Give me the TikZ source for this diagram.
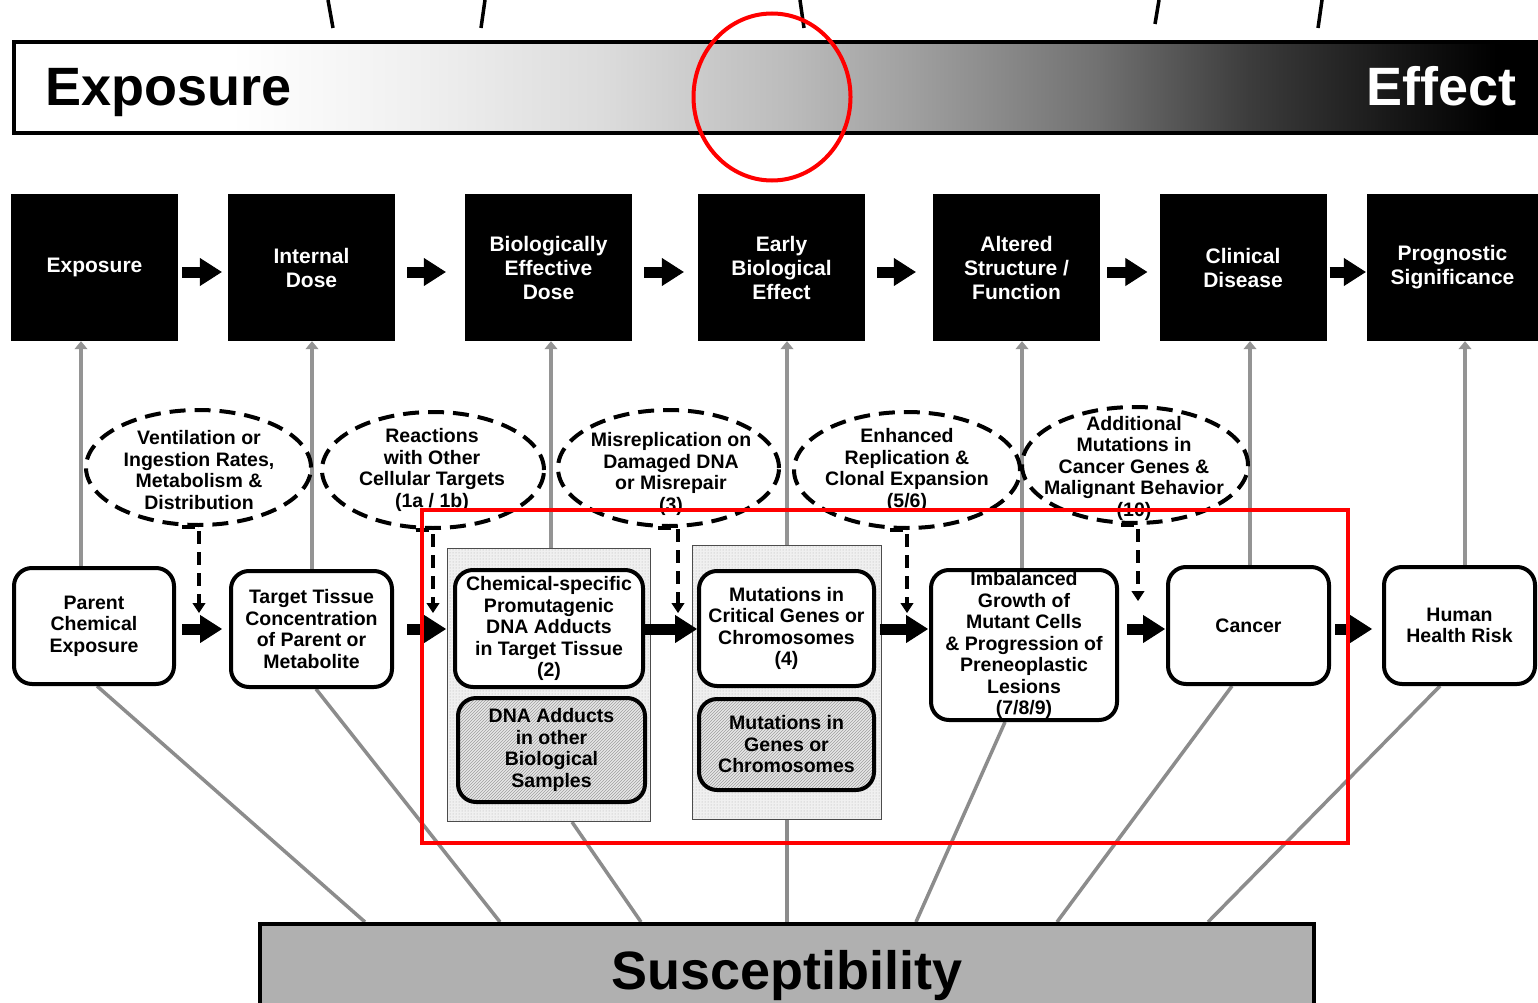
\documentclass[tikz,border=0pt]{standalone}
\usepackage{fontspec}
\setmainfont{Liberation Sans}
\usetikzlibrary{arrows.meta,calc,patterns,shapes.geometric}
\pgfdeclarelayer{back}
\pgfdeclarelayer{lines}
\pgfsetlayers{back,lines,main}
\definecolor{shA}{HTML}{F0F0F0}
\definecolor{shB}{HTML}{DCDCDC}
\definecolor{shC}{HTML}{BCBCBC}
\definecolor{shD}{HTML}{A0A0A0}
\definecolor{shE}{HTML}{727272}
\definecolor{shF}{HTML}{3C3C3C}
\definecolor{shG}{HTML}{151515}
\pgfdeclarehorizontalshading{expeff}{100bp}{color(0bp)=(white); color(32bp)=(white); color(38bp)=(shA); color(44bp)=(shB); color(50bp)=(shC); color(54bp)=(shD); color(60bp)=(shE); color(65bp)=(shF); color(70bp)=(shG); color(73bp)=(black); color(100bp)=(black)}
\tikzset{
 blk/.style={rectangle, fill=black, text=white, inner sep=0pt, minimum width=167pt, minimum height=147pt, align=center, font=\bfseries\fontsize{21pt}{24pt}\selectfont},
 wbox/.style={rectangle, rounded corners=18pt, draw=black, line width=4pt, fill=white, inner sep=1pt, align=center, font=\bfseries\fontsize{19.5pt}{21.5pt}\selectfont},
 hbox/.style={wbox, preaction={fill=black!9}, pattern=north east lines, pattern color=black!38},
 cont/.style={rectangle, draw=black!70, line width=1pt, preaction={fill=black!6}, pattern=dots, pattern color=black!32, inner sep=0pt},
 ell/.style={ellipse, draw=black, line width=4pt, dash pattern=on 16pt off 9pt, inner sep=0pt},
 etxt/.style={align=center, inner sep=0pt, font=\bfseries\fontsize{19.5pt}{21.5pt}\selectfont},
 fat/.style={draw=black, line width=11pt, -{Triangle[length=22pt,width=28pt,line width=1pt]}},
 garrow/.style={draw=black!42, line width=4pt, -{Triangle[length=8pt,width=13pt,line width=1pt]}},
 gline/.style={draw=black!45, line width=3.5pt},
 dline/.style={draw=black, line width=4pt, dash pattern=on 13pt off 8pt, -{Triangle[length=10pt,width=13pt,line width=1pt]}},
 bigtxt/.style={font=\bfseries\fontsize{54pt}{60pt}\selectfont, inner sep=0pt},
 paren/.style={draw=black, line width=3.5pt},
 redmark/.style={draw=red, line width=4pt, inner sep=0pt},
}
\begin{document}
\begin{tikzpicture}[x=1pt,y=-1pt]
\useasboundingbox (0,0) rectangle (1538,1003);
\begin{pgfonlayer}{back}
\fill[white] (0,0) rectangle (1538,1003);
\end{pgfonlayer}

% partial parentheses at the top edge
\draw[paren] (328,0) -- (333,28);
\draw[paren] (485,0) -- (481,28);
\draw[paren] (800,0) -- (804,28);
\draw[paren] (1159,0) -- (1155,24);
\draw[paren] (1322,0) -- (1318,28);

% exposure-effect bar
\node[rectangle, draw=black, line width=4pt, shading=expeff, minimum width=1544pt, minimum height=91pt, inner sep=0pt] (bar) at (786,87.5) {};
\node[bigtxt, anchor=base west] (hexp) at (45,106) {Exposure};
\node[bigtxt, anchor=base east, text=white] (heff) at (1517,106) {Effect};

% black boxes
\node[blk] (bx1) at (94.5,267.5) {Exposure};
\node[blk] (bx2) at (311.5,267.5) {Internal\\Dose};
\node[blk] (bx3) at (548.5,267.5) {Biologically\\Effective\\Dose};
\node[blk] (bx4) at (781.5,267.5) {Early\\Biological\\Effect};
\node[blk] (bx5) at (1016.5,267.5) {Altered\\Structure /\\Function};
\node[blk] (bx6) at (1243,267.5) {Clinical\\Disease};
\node[blk, minimum width=171pt] (bx7) at (1452.5,267.5) {Prognostic\\Significance};

% ellipses
\node[ell, minimum width=225pt, minimum height=115pt] (e1) at (198.5,467.5) {};
\node[etxt] (t1) at (199,470) {Ventilation or\\Ingestion Rates,\\Metabolism \&\\Distribution};
\node[ell, minimum width=222pt, minimum height=116pt] (e2) at (433,470) {};
\node[etxt] (t2) at (432,470) {Reactions\\with Other\\Cellular Targets\\(1a / 1b)};
\node[ell, minimum width=221pt, minimum height=116pt] (e3) at (668.5,468) {};
\node[etxt] (t3) at (671,474) {Misreplication on\\Damaged DNA\\or Misrepair\\(3)};
\node[ell, minimum width=226pt, minimum height=116pt] (e4) at (907,470) {};
\node[etxt] (t4) at (907,470) {Enhanced\\Replication \&\\Clonal Expansion\\(5/6)};
\node[ell, minimum width=226pt, minimum height=116pt] (e5) at (1135,465) {};
\node[etxt] (t5) at (1134,468) {Additional\\Mutations in\\Cancer Genes \&\\Malignant Behavior\\(10)};

% containers and boxes
\node[cont, minimum width=203pt, minimum height=273pt] (c1) at (549,685) {};
\node[cont, minimum width=189pt, minimum height=274pt] (c2) at (787,682.5) {};
\node[wbox, minimum width=160pt, minimum height=116pt] (pce) at (94,626) {Parent\\Chemical\\Exposure};
\node[wbox, minimum width=161pt, minimum height=116pt] (tt) at (311.5,629) {Target Tissue\\Concentration\\of Parent or\\Metabolite};
\node[wbox, minimum width=188pt, minimum height=117pt] (chem) at (549,628.5) {Chemical-specific\\Promutagenic\\DNA Adducts\\in Target Tissue\\(2)};
\node[hbox, minimum width=187pt, minimum height=104pt] (dna) at (551.5,750) {DNA Adducts\\in other\\Biological\\Samples};
\node[wbox, minimum width=175pt, minimum height=115pt] (mut) at (786.5,628.5) {Mutations in\\Critical Genes or\\Chromosomes\\(4)};
\node[hbox, minimum width=175pt, minimum height=91pt] (mutg) at (786.5,744.5) {Mutations in\\Genes or\\Chromosomes};
\node[wbox, minimum width=186pt, minimum height=150pt] (img) at (1024,645) {Imbalanced\\Growth of\\Mutant Cells\\\& Progression of\\Preneoplastic\\Lesions\\(7/8/9)};
\node[wbox, minimum width=161pt, minimum height=117pt] (cancer) at (1248.5,625.5) {Cancer};
\node[wbox, minimum width=151pt, minimum height=117pt] (hhr) at (1459.5,625.5) {Human\\Health Risk};

% susceptibility
\node[rectangle, draw=black, line width=4pt, fill=black!31, minimum width=1054pt, minimum height=104pt, inner sep=0pt, font=\bfseries\fontsize{54pt}{60pt}\selectfont] (susc) at (787,976) {Susceptibility};

% gray connectors
\begin{pgfonlayer}{lines}
\draw[garrow] ([xshift=-13pt]pce.north) -- ([xshift=-13.5pt]bx1.south);
\draw[garrow] ([xshift=0.5pt]tt.north) -- ([xshift=0.5pt]bx2.south);
\draw[garrow] ([xshift=2pt]c1.north) -- ([xshift=2.5pt]bx3.south);
\draw[garrow] (c2.north) -- ([xshift=5.5pt]bx4.south);
\draw[garrow] ([xshift=-2pt]img.north) -- ([xshift=5.5pt]bx5.south);
\draw[garrow] ([xshift=1.5pt]cancer.north) -- ([xshift=7pt]bx6.south);
\draw[garrow] ([xshift=5.5pt]hhr.north) -- ([xshift=12.5pt]bx7.south);
\draw[gline] ([xshift=3pt]pce.south) -- ([xshift=-422pt]susc.north);
\draw[gline] ([xshift=4.5pt]tt.south) -- ([xshift=-287pt]susc.north);
\draw[gline] ([xshift=23pt]c1.south) -- ([xshift=-146pt]susc.north);
\draw[gline] (c2.south) -- (susc.north);
\draw[gline] ([xshift=-19pt]img.south) -- ([xshift=129pt]susc.north);
\draw[gline] ([xshift=-16.5pt]cancer.south) -- ([xshift=270pt]susc.north);
\draw[gline] ([xshift=-19.5pt]hhr.south) -- ([xshift=421pt]susc.north);
\end{pgfonlayer}

% dashed influences
\coordinate (d1) at (199,613);
\coordinate (d2) at (433,613);
\coordinate (d3) at (678,613);
\coordinate (d4) at (907,613);
\coordinate (d5) at (1138,601);
\draw[dline] ($(e1.south -| d1)+(-17,0)$) -- (e1.south -| d1) -- (d1);
\draw[dline] ($(e2.south -| d2)+(-17,0)$) -- (e2.south -| d2) -- (d2);
\draw[dline] ($(e3.south -| d3)+(-20,0)$) -- (e3.south -| d3) -- (d3);
\draw[dline] ($(e4.south -| d4)+(-17,0)$) -- (e4.south -| d4) -- (d4);
\draw[dline] ($(e5.south -| d5)+(-17,0)$) -- (e5.south -| d5) -- (d5);

% fat arrows
\coordinate (rt) at (0,272);
\coordinate (rb) at (0,629);
\draw[fat, shorten <=4pt, shorten >=6pt] (bx1.east |- rt) -- (bx2.west |- rt);
\draw[fat, shorten <=12pt, shorten >=19pt] (bx2.east |- rt) -- (bx3.west |- rt);
\draw[fat, shorten <=12pt, shorten >=14pt] (bx3.east |- rt) -- (bx4.west |- rt);
\draw[fat, shorten <=12pt, shorten >=17pt] (bx4.east |- rt) -- (bx5.west |- rt);
\draw[fat, shorten <=7pt, shorten >=12pt] (bx5.east |- rt) -- (bx6.west |- rt);
\draw[fat, shorten <=3pt, shorten >=1pt] (bx6.east |- rt) -- (bx7.west |- rt);
\draw[fat, shorten <=6pt, shorten >=7pt] (pce.east |- rb) -- (tt.west |- rb);
\draw[fat, shorten <=13pt, shorten >=1pt] (tt.east |- rb) -- (c1.west |- rb);
\draw[fat] (chem.east |- rb) -- (mut.west |- rb);
\draw[fat, shorten <=4pt, shorten >=1pt] (mut.east |- rb) -- (img.west |- rb);
\draw[fat, shorten <=8pt, shorten >=1pt] (img.east |- rb) -- (cancer.west |- rb);
\draw[fat, shorten <=4pt, shorten >=10pt] (cancer.east |- rb) -- (hhr.west |- rb);

% red annotations
\node[redmark, ellipse, minimum width=157pt, minimum height=167pt] (rc) at (772,97) {};
\node[redmark, rectangle, minimum width=926pt, minimum height=333pt] (rr) at (885,676.5) {};
\end{tikzpicture}
\end{document}
